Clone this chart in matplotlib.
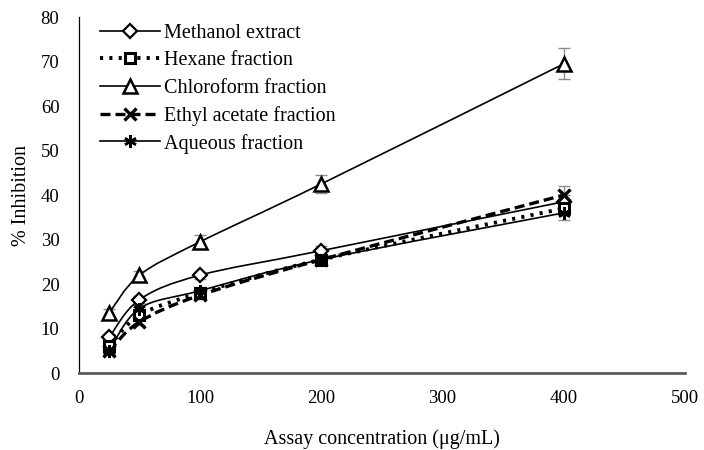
import numpy as np
import matplotlib
matplotlib.use("Agg")
import matplotlib.pyplot as plt
from matplotlib.path import Path
from matplotlib.patches import PathPatch
from matplotlib.lines import Line2D

# assay data
conc = [25, 50, 100, 200, 400]
methanol = [8.0, 16.5, 22.0, 27.5, 38.5]
hexane = [6.0, 13.0, 18.0, 25.5, 37.0]
chloroform = [13.5, 22.0, 29.5, 42.5, 69.5]
ethyl_acetate = [5.0, 11.5, 17.5, 25.5, 40.0]
aqueous = [5.0, 14.5, 18.5, 25.5, 36.0]

methanol_err = [0.8, 0.8, 0.8, 1.0, 1.5]
hexane_err = [0.8, 0.8, 0.8, 1.0, 1.5]
chloroform_err = [0.8, 1.0, 1.5, 2.0, 3.5]
ethyl_acetate_err = [0.8, 0.8, 0.8, 1.0, 2.0]
aqueous_err = [0.8, 0.8, 0.8, 1.0, 1.5]

labels = ["Methanol extract", "Hexane fraction", "Chloroform fraction",
          "Ethyl acetate fraction", "Aqueous fraction"]

plt.rcParams['font.family'] = ['Liberation Serif', 'DejaVu Serif']


def smooth_path(x, y):
    # Excel-like smoothed line: Catmull-Rom turned into cubic Bezier pieces
    pts = np.column_stack([x, y]).astype(float)
    verts = [pts[0]]
    codes = [Path.MOVETO]
    n = len(pts)
    for i in range(n - 1):
        p0 = pts[max(i - 1, 0)]
        p1 = pts[i]
        p2 = pts[i + 1]
        p3 = pts[min(i + 2, n - 1)]
        c1 = p1 + (p2 - p0) / 6.0
        c2 = p2 - (p3 - p1) / 6.0
        verts += [c1, c2, p2]
        codes += [Path.CURVE4] * 3
    return Path(verts, codes)


fig, ax = plt.subplots(figsize=(7.04, 4.5), dpi=100)
fig.subplots_adjust(left=0.112, right=0.973, bottom=0.171, top=0.962)

series = [
    (methanol, methanol_err, dict(ls='-', lw=1.2), dict(marker='D', ms=7, mfc='white', mew=1.6)),
    (hexane, hexane_err, dict(ls=(0, (0.8, 1.6)), lw=2.8), dict(marker='s', ms=7, mfc='white', mew=2.2)),
    (chloroform, chloroform_err, dict(ls='-', lw=1.2), dict(marker='^', ms=10, mfc='white', mew=1.8)),
    (ethyl_acetate, ethyl_acetate_err, dict(ls=(0, (3, 1.5)), lw=2.4), dict(marker='x', ms=8, mew=2.4)),
    (aqueous, aqueous_err, dict(ls='-', lw=1.2), dict(marker=(6, 2, 0), ms=9, mew=1.8)),
]

handles = []
for (vals, err, lstyle, mstyle), lab in zip(series, labels):
    ax.errorbar(conc, vals, yerr=err, fmt='none', ecolor='#8c8c8c',
                elinewidth=1.0, capsize=4, capthick=1.0, zorder=2)
    patch = PathPatch(smooth_path(conc, vals), fill=False, edgecolor='black',
                      linestyle=lstyle['ls'], linewidth=lstyle['lw'], zorder=3)
    ax.add_patch(patch)
    ax.plot(conc, vals, ls='none', color='black', mec='black', zorder=4, **mstyle)
    handles.append(Line2D([], [], color='black', linestyle=lstyle['ls'],
                          linewidth=lstyle['lw'], mec='black', **mstyle))

ax.set_xlim(0, 500)
ax.set_ylim(0, 80)
ax.set_xticks(range(0, 501, 100))
ax.set_yticks(range(0, 81, 10))
ax.tick_params(length=0, labelsize=13.5)
ax.tick_params(axis='y', pad=14)
ax.tick_params(axis='x', pad=12)

for s in ['top', 'right']:
    ax.spines[s].set_visible(False)
ax.spines['left'].set_color('black')
ax.spines['left'].set_linewidth(0.9)
ax.spines['bottom'].set_color('#595959')
ax.spines['bottom'].set_linewidth(2.0)

ax.set_xlabel("Assay concentration (μg/mL)", fontsize=14.5, labelpad=16)
ax.set_ylabel("% Inhibition", fontsize=14.5, labelpad=7)

ax.legend(handles, labels, loc='upper left', bbox_to_anchor=(0.035, 0.98),
          frameon=False, fontsize=14.5, handlelength=3.0, handletextpad=0.15,
          labelspacing=0.4, borderaxespad=0, borderpad=0)

fig.savefig("out.png", dpi=100)
